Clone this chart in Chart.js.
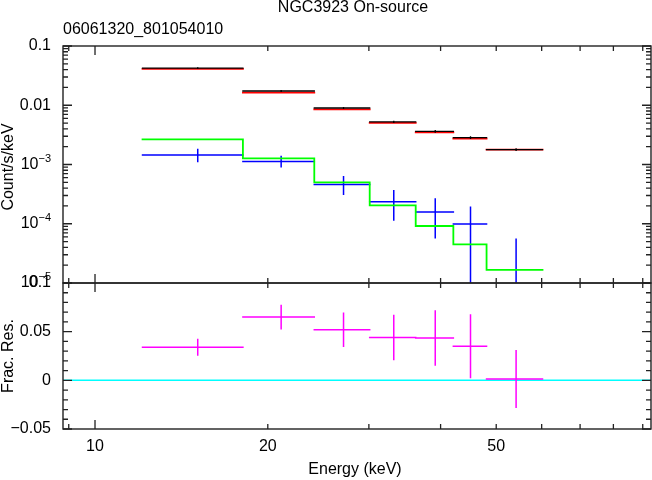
<!DOCTYPE html>
<html>
<head>
<meta charset="utf-8">
<script src="https://cdn.jsdelivr.net/npm/chart.js@4.4.1/dist/chart.umd.min.js"></script>
<style>
  html, body { margin: 0; padding: 0; background: #fff; }
  #wrap { position: relative; width: 652px; height: 480px; }
  canvas { position: absolute; left: 0; top: 0; }
</style>
</head>
<body>
<div id="wrap">
  <canvas id="spec" width="652" height="480"></canvas>
  <canvas id="resid" width="652" height="480"></canvas>
</div>
<script>
// energy bins (keV)
var binLo = [12.1, 18.1, 24.1, 30.1, 36.2, 42.1, 48.1];
var binHi = [18.1, 24.1, 30.1, 36.2, 42.1, 48.1, 60.2];
var binMid = [15.1, 21.1, 27.1, 33.15, 39.15, 45.1, 54.15];

// on-source data (black) and its model (red), counts/s/keV
var srcRate  = [0.0424, 0.0174, 0.00899, 0.00525, 0.00363, 0.00284, 0.00178];
var srcErr   = [0.00034, 0.0002, 0.00015, 0.00011, 0.0001, 0.00009, 0.00005];
var srcModel = [0.0410, 0.0163, 0.00855, 0.00503, 0.00348, 0.00274, 0.00178];

// second data set (blue) and its model (green)
var bgRate  = [0.00145, 0.00112, 0.00046, 0.000236, 0.000158, 0.000099, 0.000005];
var bgLo    = [0.00112, 0.00092, 0.000314, 0.000116, 0.0000582, 0.000001, 0.000001];
var bgHi    = [0.0018, 0.00136, 0.00062, 0.000361, 0.000262, 0.00019, 0.0000547];
var bgModel = [0.00266, 0.00127, 0.0005, 0.000205, 0.0000916, 0.000045, 0.0000166];

// fractional residuals (magenta)
var resid    = [0.034, 0.065, 0.052, 0.044, 0.0435, 0.035, 0.0013];
var residErr = [0.008, 0.012, 0.017, 0.0226, 0.0277, 0.032, 0.029];

// axes
var xMin = 8.795, xMax = 93.03;
var xMajor = [10];
var xMinor = [9, 20, 30, 40, 50, 60, 70, 80, 90];
var xLabelVals = [10, 20, 50];
var xLabelText = ["10", "20", "50"];

var topTickVals = [0.1, 0.01, 1e-3, 1e-4, 1e-5];
var topTickText = [["0.1", ""], ["0.01", ""], ["10", "\u22123"], ["10", "\u22124"], ["10", "\u22125"]];
var botTickVals = [0.1, 0.05, 0, -0.05];
var botTickText = ["0.1", "0.05", "0", "\u22120.05"];

var FONT = "Liberation Sans, Arial, Helvetica, sans-serif";

function hSegs(lo, hi, v) {
  var out = [];
  for (var i = 0; i < v.length; i++) {
    out.push({x: lo[i], y: v[i]}, {x: hi[i], y: v[i]}, {x: hi[i], y: null});
  }
  return out;
}
function vSegs(xc, lo, hi) {
  var out = [];
  for (var i = 0; i < xc.length; i++) {
    out.push({x: xc[i], y: lo[i]}, {x: xc[i], y: hi[i]}, {x: xc[i], y: null});
  }
  return out;
}
function steps(lo, hi, v) {
  var out = [];
  for (var i = 0; i < v.length; i++) {
    out.push({x: lo[i], y: v[i]}, {x: hi[i], y: v[i]});
  }
  return out;
}
function ds(data, color, order, w) {
  return {data: data, borderColor: color, borderWidth: w || 1.5, fill: false,
          spanGaps: false, order: order, borderCapStyle: 'square'};
}

function tickSet(ys, log) {
  var major = [], minor = [];
  if (log) {
    for (var e = -5; e <= -1; e++) major.push(Math.pow(10, e));
    for (var d = -5; d <= -2; d++) {
      for (var m = 2; m <= 9; m++) minor.push(m * Math.pow(10, d));
    }
  } else {
    major = [-0.05, 0, 0.05, 0.1];
    for (var k = -4; k <= 9; k++) if (k % 5 !== 0) minor.push(k / 100);
  }
  return {major: major, minor: minor};
}

function framePlugin(isLog) {
  return {
    id: 'frame',
    afterDraw: function(chart) {
      var ctx = chart.ctx, a = chart.chartArea;
      var xs = chart.scales.x, ys = chart.scales.y;
      ctx.save();
      ctx.strokeStyle = '#222';
      ctx.lineWidth = 1.4;
      ctx.strokeRect(a.left, a.top, a.right - a.left, a.bottom - a.top);

      ctx.lineWidth = 1.3;
      ctx.beginPath();
      function xt(v, len) {
        var px = xs.getPixelForValue(v);
        ctx.moveTo(px, a.top); ctx.lineTo(px, a.top + len);
        ctx.moveTo(px, a.bottom); ctx.lineTo(px, a.bottom - len);
      }
      function yt(v, len) {
        var py = ys.getPixelForValue(v);
        ctx.moveTo(a.left, py); ctx.lineTo(a.left + len, py);
        ctx.moveTo(a.right, py); ctx.lineTo(a.right - len, py);
      }
      xMajor.forEach(function(v) { xt(v, 9); });
      xMinor.forEach(function(v) { xt(v, 5); });
      var t = tickSet(ys, isLog);
      t.major.forEach(function(v) { yt(v, 9); });
      t.minor.forEach(function(v) { yt(v, 5); });
      ctx.stroke();

      ctx.fillStyle = '#000';
      ctx.font = '16px ' + FONT;
      ctx.textBaseline = 'middle';
      if (isLog) {
        topTickVals.forEach(function(v, i) {
          var py = ys.getPixelForValue(v);
          var txt = topTickText[i];
          var supW = 0;
          if (txt[1]) {
            ctx.font = '11px ' + FONT;
            supW = ctx.measureText(txt[1]).width;
            ctx.textAlign = 'right';
            ctx.fillText(txt[1], 51, py - 6);
            ctx.font = '16px ' + FONT;
          }
          ctx.textAlign = 'right';
          ctx.fillText(txt[0], 51 - supW, py);
        });
        // titles
        ctx.textAlign = 'center';
        ctx.fillText('NGC3923 On-source', 353, 8);
        ctx.textAlign = 'left';
        ctx.fillText('06061320_801054010', 63, 30);
        ctx.save();
        ctx.translate(9, 167);
        ctx.rotate(-Math.PI / 2);
        ctx.textAlign = 'center';
        ctx.fillText('Count/s/keV', 0, 0);
        ctx.restore();
      } else {
        ctx.textAlign = 'right';
        botTickVals.forEach(function(v, i) {
          ctx.fillText(botTickText[i], 51, ys.getPixelForValue(v));
        });
        ctx.textAlign = 'center';
        xLabelVals.forEach(function(v, i) {
          ctx.fillText(xLabelText[i], xs.getPixelForValue(v), 447);
        });
        ctx.fillText('Energy (keV)', 355, 470);
        ctx.save();
        ctx.translate(9, 356);
        ctx.rotate(-Math.PI / 2);
        ctx.fillText('Frac. Res.', 0, 0);
        ctx.restore();
      }
      ctx.restore();
    }
  };
}

function baseOptions(pad, yScale) {
  return {
    responsive: false,
    animation: false,
    events: [],
    layout: {padding: pad},
    plugins: {legend: {display: false}, tooltip: {enabled: false}, title: {display: false}},
    elements: {point: {radius: 0}, line: {tension: 0}},
    scales: {
      x: {type: 'logarithmic', min: xMin, max: xMax, display: false},
      y: yScale
    }
  };
}

var spec = new Chart(document.getElementById('spec'), {
  type: 'line',
  data: {
    datasets: [
      ds(hSegs(binLo, binHi, srcRate), '#000000', 1, 1.3),
      ds(vSegs(binMid, srcRate.map(function(v, i) { return v - srcErr[i]; }),
                       srcRate.map(function(v, i) { return v + srcErr[i]; })), '#000000', 1, 1.3),
      ds(hSegs(binLo, binHi, srcModel), '#ff0000', 2, 1.8),
      ds(steps(binLo, binHi, bgModel), '#00ff00', 3, 1.8),
      ds(hSegs(binLo, binHi, bgRate), '#0000ff', 4, 1.5),
      ds(vSegs(binMid, bgLo, bgHi), '#0000ff', 4, 1.5)
    ]
  },
  options: baseOptions({left: 63, right: 1, top: 46, bottom: 197},
    {type: 'logarithmic', min: 1e-5, max: 0.1, display: false}),
  plugins: [framePlugin(true)]
});

var res = new Chart(document.getElementById('resid'), {
  type: 'line',
  data: {
    datasets: [
      ds([{x: xMin, y: 0}, {x: xMax, y: 0}], '#00ffff', 3, 1.5),
      ds(hSegs(binLo, binHi, resid), '#ff00ff', 1, 1.5),
      ds(vSegs(binMid, resid.map(function(v, i) { return v - residErr[i]; }),
                       resid.map(function(v, i) { return v + residErr[i]; })), '#ff00ff', 1, 1.5)
    ]
  },
  options: baseOptions({left: 63, right: 1, top: 283, bottom: 51},
    {type: 'linear', min: -0.05, max: 0.1, display: false}),
  plugins: [framePlugin(false)]
});
</script>
</body>
</html>
